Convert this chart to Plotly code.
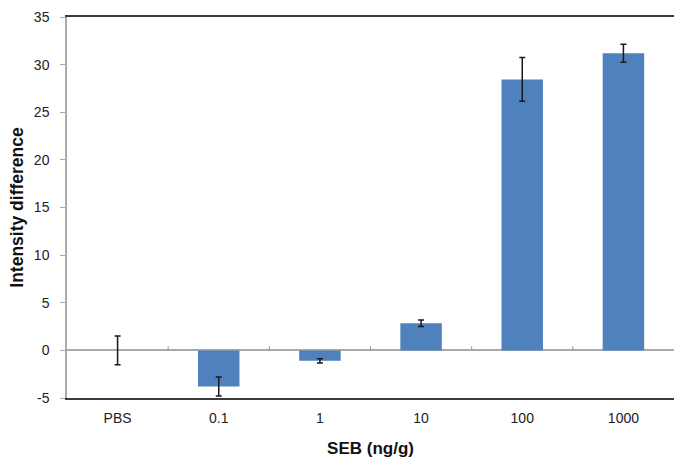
import plotly.graph_objects as go

categories = ["PBS", "0.1", "1", "10", "100", "1000"]
values = [0.0, -3.8, -1.1, 2.85, 28.45, 31.2]
errors = [1.5, 1.0, 0.22, 0.35, 2.3, 0.95]
y_ticks = [-5, 0, 5, 10, 15, 20, 25, 30, 35]
y_tick_labels = ["-5", "0", "5", "10", "15", "20", "25", "30", "35"]

fig = go.Figure()
fig.add_trace(go.Bar(
    x=categories, y=values, width=0.41,
    marker=dict(color="#4F81BD", line=dict(width=0)),
    error_y=dict(type="data", array=errors, visible=True, color="#1a1a1a",
                 thickness=1.5, width=3),
))

# small category divider ticks on the zero line
for i in range(len(categories) - 1):
    fig.add_shape(type="line", xref="x", yref="y",
                  x0=i + 0.5, x1=i + 0.5, y0=0, y1=0.45,
                  line=dict(color="#999999", width=1))

font = "Liberation Sans, Arial, sans-serif"
fig.update_layout(
    width=674, height=458,
    margin=dict(l=67, r=0, t=17, b=60),
    plot_bgcolor="white", paper_bgcolor="white",
    showlegend=False,
    font=dict(family=font, size=14, color="#222222"),
    xaxis=dict(
        type="category", range=[-0.5, 5.5], automargin=False,
        showline=True, linecolor="#3a3a3a", linewidth=1.5, mirror=True,
        showgrid=False, ticks="outside", ticklen=6, tickcolor="rgba(0,0,0,0)",
        tickfont=dict(size=14, color="#222222"),
        title=dict(text="<b>SEB (ng/g)</b>", font=dict(size=17, color="#111111"),
                   standoff=18),
    ),
    yaxis=dict(
        range=[-5, 35], tickvals=y_ticks, ticktext=y_tick_labels, automargin=False,
        showline=True, linecolor="#aaaaaa", linewidth=1.5,
        showgrid=False, zeroline=True, zerolinecolor="#aaaaaa", zerolinewidth=1.5,
        ticks="outside", ticklen=5, tickcolor="#aaaaaa", ticklabelstandoff=8,
        tickfont=dict(size=14, color="#222222"),
        title=dict(text="<b>Intensity difference</b>", font=dict(size=17.5, color="#111111"),
                   standoff=6),
    ),
)

fig.write_html("out.html", config={"displayModeBar": False},
               post_script="document.body.style.margin='0';")
